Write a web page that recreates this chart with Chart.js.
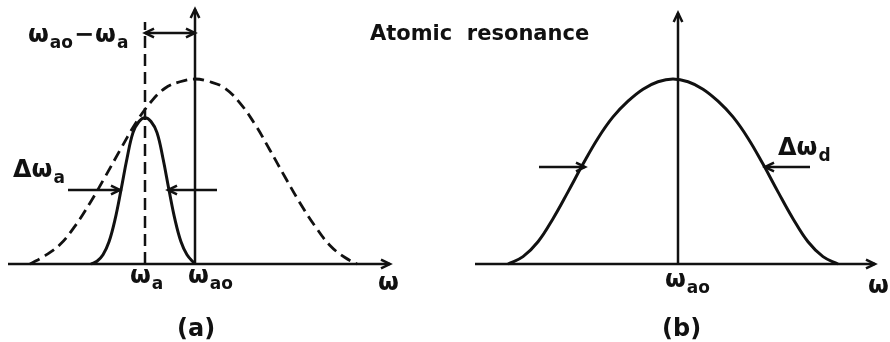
<!DOCTYPE html>
<html>
<head>
<meta charset="utf-8">
<script src="https://cdn.jsdelivr.net/npm/chart.js@4.4.1/dist/chart.umd.min.js"></script>
<style>
  html, body { margin: 0; padding: 0; background: #fff; }
  #wrap { position: relative; width: 890px; height: 342px; }
</style>
</head>
<body>
<div id="wrap"><canvas id="c" width="890" height="342"></canvas></div>
<script>
// Panel (a): Doppler-broadened envelope (dashed) centred at ω_ao
const omegaDopplerA = [-8.25, -7.5, -6.75, -6.0, -5.25, -4.5, -3.75, -3.0, -2.25, -1.5, -0.75, 0,
                       0.75, 1.5, 2.25, 3.0, 3.75, 4.5, 5.25, 6.0, 6.75, 7.5, 8.1];
const lineDopplerA  = [0, 0.045, 0.105, 0.205, 0.33, 0.47, 0.615, 0.755, 0.87, 0.95, 0.985, 1.00,
                       0.985, 0.95, 0.87, 0.755, 0.615, 0.47, 0.33, 0.205, 0.10, 0.035, 0];

// Panel (a): single-atom resonance (solid) centred at ω_a
const omegaAtomCentre = -2.5;
const omegaAtomA = [-5.2, -4.9, -4.6, -4.3, -4.0, -3.7, -3.4, -3.1, -2.8, -2.5,
                    -2.2, -1.9, -1.6, -1.3, -1.0, -0.7, -0.4, 0];
const lineAtomA  = [0, 0.015, 0.05, 0.12, 0.24, 0.40, 0.57, 0.71, 0.77, 0.79,
                    0.77, 0.71, 0.57, 0.40, 0.24, 0.12, 0.05, 0];

// Panel (b): inhomogeneous (Doppler) line around ω_ao
const omegaDopplerB = [-8.5, -7.75, -7.0, -6.25, -5.5, -4.75, -4.0, -3.25, -2.5, -1.75, -1.0, -0.25,
                       0.5, 1.25, 2.0, 2.75, 3.5, 4.25, 5.0, 5.75, 6.5, 7.25, 8.0];
const lineDopplerB  = [0, 0.04, 0.12, 0.245, 0.39, 0.54, 0.68, 0.795, 0.88, 0.945, 0.985, 1.00,
                       0.985, 0.945, 0.88, 0.795, 0.68, 0.54, 0.39, 0.245, 0.12, 0.04, 0];

// Half-maximum levels where the width arrows sit
const halfLevelA = 0.40;
const halfLevelB = 0.524;

const toPoints = (xs, ys) => xs.map((x, i) => ({ x, y: ys[i] }));

const INK = '#111';
const FONT = '"DejaVu Sans", "Liberation Sans", sans-serif';

// Axes, markers and arrows, all in data units of the panel's own x scale
const guides = [
  { ax: 'xa', from: [-9.35, 0], to: [9.75, 0], head: 'end' },
  { ax: 'xa', from: [0, 0], to: [0, 1.378], head: 'end' },
  { ax: 'xa', from: [omegaAtomCentre, 0], to: [omegaAtomCentre, 1.308], dash: [12, 6] },
  { ax: 'xa', from: [omegaAtomCentre, 1.249], to: [0, 1.249], head: 'both' },
  { ax: 'xa', from: [-6.35, halfLevelA], to: [-3.75, halfLevelA], head: 'end' },
  { ax: 'xa', from: [1.1, halfLevelA], to: [-1.35, halfLevelA], head: 'end' },
  { ax: 'xb', from: [-10.15, 0], to: [9.85, 0], head: 'end' },
  { ax: 'xb', from: [0, 0], to: [0, 1.357], head: 'end' },
  { ax: 'xb', from: [-6.95, halfLevelB], to: [-4.65, halfLevelB], head: 'end' },
  { ax: 'xb', from: [6.6, halfLevelB], to: [4.35, halfLevelB], head: 'end' }
];

// Text labels: parts flagged 1 are subscripts
const labels = [
  { ax: 'xa', x: -8.35, y: 1.2, parts: [['ω'], ['ao', 1], ['−'], ['ω'], ['a', 1]] },
  { ax: 'xa', x: 8.75, y: 1.211, parts: [['Atomic  resonance']], size: 21 },
  { ax: 'xa', x: -9.1, y: 0.47, parts: [['Δω'], ['a', 1]] },
  { ax: 'xa', x: -3.25, y: -0.103, parts: [['ω'], ['a', 1]] },
  { ax: 'xa', x: -0.35, y: -0.103, parts: [['ω'], ['ao', 1]] },
  { ax: 'xa', x: 9.15, y: -0.14, parts: [['ω']] },
  { ax: 'xa', x: -0.9, y: -0.389, parts: [['(a)']] },
  { ax: 'xb', x: 5.0, y: 0.589, parts: [['Δω'], ['d', 1]] },
  { ax: 'xb', x: -0.65, y: -0.124, parts: [['ω'], ['ao', 1]] },
  { ax: 'xb', x: 9.5, y: -0.157, parts: [['ω']] },
  { ax: 'xb', x: -0.8, y: -0.389, parts: [['(b)']] }
];

function arrowHead(ctx, x0, y0, x1, y1) {
  const a = Math.atan2(y1 - y0, x1 - x0);
  const len = 10, spread = 0.45;
  ctx.beginPath();
  ctx.moveTo(x1 - len * Math.cos(a - spread), y1 - len * Math.sin(a - spread));
  ctx.lineTo(x1, y1);
  ctx.lineTo(x1 - len * Math.cos(a + spread), y1 - len * Math.sin(a + spread));
  ctx.stroke();
}

const diagramPlugin = {
  id: 'diagram',
  afterDatasetsDraw(chart) {
    const ctx = chart.ctx;
    const ys = chart.scales.y;
    ctx.save();
    ctx.strokeStyle = INK;
    ctx.fillStyle = INK;
    ctx.lineCap = 'butt';
    ctx.lineJoin = 'miter';
    for (const g of guides) {
      const xs = chart.scales[g.ax];
      const x0 = xs.getPixelForValue(g.from[0]), y0 = ys.getPixelForValue(g.from[1]);
      const x1 = xs.getPixelForValue(g.to[0]), y1 = ys.getPixelForValue(g.to[1]);
      ctx.lineWidth = 2.5;
      ctx.setLineDash(g.dash || []);
      ctx.beginPath();
      ctx.moveTo(x0, y0);
      ctx.lineTo(x1, y1);
      ctx.stroke();
      ctx.setLineDash([]);
      if (g.head === 'end' || g.head === 'both') arrowHead(ctx, x0, y0, x1, y1);
      if (g.head === 'both') arrowHead(ctx, x1, y1, x0, y0);
    }
    ctx.textBaseline = 'alphabetic';
    ctx.textAlign = 'left';
    for (const l of labels) {
      const size = l.size || 24;
      let x = chart.scales[l.ax].getPixelForValue(l.x);
      const y = ys.getPixelForValue(l.y);
      for (const [t, sub] of l.parts) {
        ctx.font = sub ? `bold ${Math.round(size * 0.7)}px ${FONT}` : `bold ${size}px ${FONT}`;
        ctx.fillText(t, x, sub ? y + 6 : y);
        x += ctx.measureText(t).width + 1;
      }
    }
    ctx.restore();
  }
};

const curve = (data, axis, opts) => Object.assign({
  data, xAxisID: axis, yAxisID: 'y', showLine: true, pointRadius: 0,
  borderColor: INK, borderWidth: 3, fill: false, tension: 0.4
}, opts);

new Chart(document.getElementById('c'), {
  type: 'scatter',
  data: {
    datasets: [
      curve(toPoints(omegaDopplerA, lineDopplerA), 'xa', { borderDash: [11, 6], borderWidth: 2.8 }),
      curve(toPoints(omegaAtomA, lineAtomA), 'xa', {}),
      curve(toPoints(omegaDopplerB, lineDopplerB), 'xb', {})
    ]
  },
  options: {
    responsive: false,
    animation: false,
    devicePixelRatio: 1,
    layout: { padding: 0 },
    plugins: { legend: { display: false }, tooltip: { enabled: false } },
    scales: {
      xa: { type: 'linear', display: false, min: -9.75, max: 34.75 },
      xb: { type: 'linear', display: false, min: -33.9, max: 10.6 },
      y:  { type: 'linear', display: false, min: -0.4216, max: 1.427 }
    }
  },
  plugins: [diagramPlugin]
});
</script>
</body>
</html>
